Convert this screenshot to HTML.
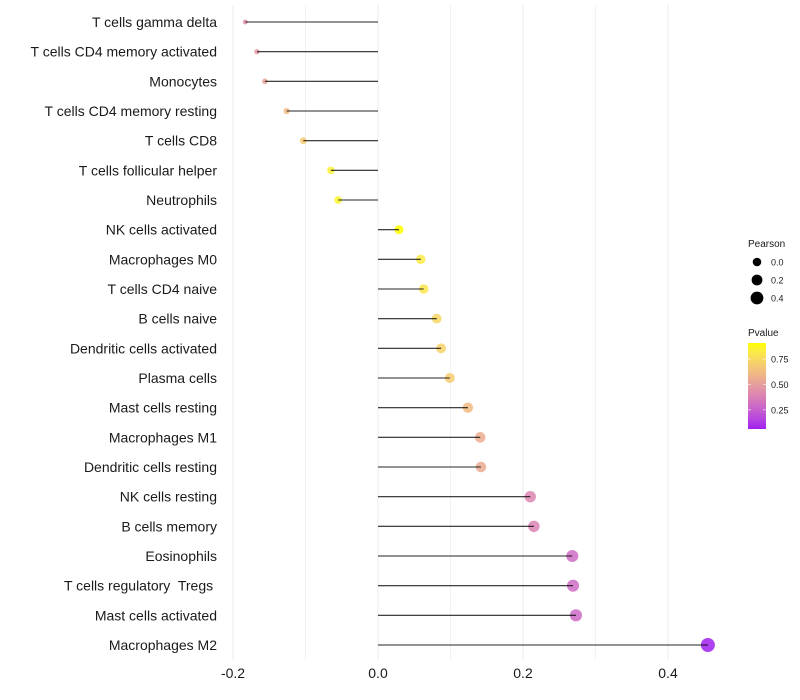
<!DOCTYPE html>
<html><head><meta charset="utf-8"><style>
body{margin:0;background:#fff;font-family:"Liberation Sans",sans-serif}
svg{display:block}
text{white-space:pre}
</style></head><body>
<svg id="c" width="800" height="700"></svg>
<script>
const categories=["T cells gamma delta","T cells CD4 memory activated","Monocytes","T cells CD4 memory resting","T cells CD8","T cells follicular helper","Neutrophils","NK cells activated","Macrophages M0","T cells CD4 naive","B cells naive","Dendritic cells activated","Plasma cells","Mast cells resting","Macrophages M1","Dendritic cells resting","NK cells resting","B cells memory","Eosinophils","T cells regulatory  Tregs ","Mast cells activated","Macrophages M2"];
const pearson=[-0.183,-0.167,-0.156,-0.126,-0.103,-0.065,-0.055,0.029,0.059,0.063,0.081,0.087,0.099,0.124,0.141,0.142,0.210,0.215,0.268,0.269,0.273,0.455];
const pvalue=[0.45,0.48,0.52,0.62,0.70,0.85,0.87,0.91,0.82,0.80,0.74,0.72,0.70,0.62,0.56,0.55,0.40,0.39,0.30,0.30,0.29,0.06];
const xTicks=[-0.2,0,0.2,0.4];
const xTickLabels=["-0.2","0.0","0.2","0.4"];
const xMinor=[-0.1,0.1,0.3];
const sizeLegend=[0,0.2,0.4];
const sizeLegendLabels=["0.0","0.2","0.4"];
const pLegend=[0.25,0.5,0.75];
const pLegendLabels=["0.25","0.50","0.75"];

const NS="http://www.w3.org/2000/svg";
const svg=document.getElementById('c');
const x=v=>378+v*725;
const y=i=>22+i*(645-22)/21;
const rad=v=>Math.max(1.5,Math.sqrt(Math.max(0,18.5+67*v)));
function mk(t,a,p){const e=document.createElementNS(NS,t);for(const k in a)e.setAttribute(k,a[k]);(p||svg).appendChild(e);return e;}
function toLab(r,g,b){const f=c=>{c/=255;return c>0.04045?Math.pow((c+0.055)/1.055,2.4):c/12.92};r=f(r);g=f(g);b=f(b);
let X=(r*0.4124+g*0.3576+b*0.1805)/0.95047,Y=r*0.2126+g*0.7152+b*0.0722,Z=(r*0.0193+g*0.1192+b*0.9505)/1.08883;
const h=t=>t>0.008856?Math.cbrt(t):7.787*t+16/116;X=h(X);Y=h(Y);Z=h(Z);return[116*Y-16,500*(X-Y),200*(Y-Z)];}
function fromLab(L,a,bb){let Y=(L+16)/116,X=a/500+Y,Z=Y-bb/200;const h=t=>t*t*t>0.008856?t*t*t:(t-16/116)/7.787;
X=h(X)*0.95047;Y=h(Y);Z=h(Z)*1.08883;let r=X*3.2406+Y*-1.5372+Z*-0.4986,g=X*-0.9689+Y*1.8758+Z*0.0415,b=X*0.0557+Y*-0.2040+Z*1.0570;
const f=c=>{c=c>0.0031308?1.055*Math.pow(c,1/2.4)-0.055:12.92*c;return Math.round(Math.max(0,Math.min(1,c))*255)};return `rgb(${f(r)},${f(g)},${f(b)})`;}
const lo=toLab(160,32,240),hi=toLab(255,255,0);
const pmin=Math.min(...pvalue),pmax=Math.max(...pvalue);
function col(p){const t=Math.max(0,Math.min(1,(p-pmin)/(pmax-pmin)));return fromLab(lo[0]+(hi[0]-lo[0])*t,lo[1]+(hi[1]-lo[1])*t,lo[2]+(hi[2]-lo[2])*t);}

xMinor.forEach(v=>{const l=mk('line',{x1:x(v),x2:x(v),y1:5,y2:660,stroke:'#f2f2f2','stroke-width':1});

});
xTicks.forEach((v,i)=>{const l=mk('line',{x1:x(v),x2:x(v),y1:5,y2:660,stroke:'#ebebeb','stroke-width':1});


const t=mk('text',{x:x(v),y:678,'text-anchor':'middle','font-size':14,fill:'#1a1a1a'});t.textContent=xTickLabels[i];

});
categories.forEach((c,i)=>{const t=mk('text',{x:217,y:y(i)+5,'text-anchor':'end','font-size':14,fill:'#1a1a1a'});t.textContent=c;

});
categories.forEach((c,i)=>{const p=mk('circle',{cx:x(pearson[i]),cy:y(i),r:rad(pearson[i]),fill:col(pvalue[i]),'fill-opacity':0.85});

});
categories.forEach((c,i)=>{const l=mk('line',{x1:x(0),x2:x(pearson[i]),y1:y(i),y2:y(i),stroke:'#000','stroke-width':1.1,'stroke-opacity':0.85});

});
let t=mk('text',{x:748,y:247,'font-size':10,fill:'#1a1a1a'});t.textContent='Pearson';


sizeLegend.forEach((v,i)=>{const cy=262+i*18;const c=mk('circle',{cx:757,cy:cy,r:[4.3,5.4,6.4][i],fill:'#000'});


const tt=mk('text',{x:771,y:cy+3.5,'font-size':9,fill:'#1a1a1a'});tt.textContent=sizeLegendLabels[i];

});
t=mk('text',{x:748,y:336,'font-size':10,fill:'#1a1a1a'});t.textContent='Pvalue';


const defs=mk('defs',{});const g=mk('linearGradient',{id:'pg',x1:0,y1:1,x2:0,y2:0},defs);
for(let k=0;k<=10;k++){mk('stop',{offset:k/10,'stop-color':col(pmin+(pmax-pmin)*k/10)},g);}
const bar=mk('rect',{x:748,y:343,width:18,height:86,fill:'url(#pg)'});


const py=p=>429-(p-pmin)/(pmax-pmin)*86;
pLegend.forEach((v,i)=>{mk('line',{x1:748,x2:751,y1:py(v),y2:py(v),stroke:'#fff','stroke-opacity':0.6});
mk('line',{x1:763,x2:766,y1:py(v),y2:py(v),stroke:'#fff','stroke-opacity':0.6});
const tt=mk('text',{x:771,y:py(v)+3.5,'font-size':9,fill:'#1a1a1a'});tt.textContent=pLegendLabels[i];

});
</script>
</body></html>
